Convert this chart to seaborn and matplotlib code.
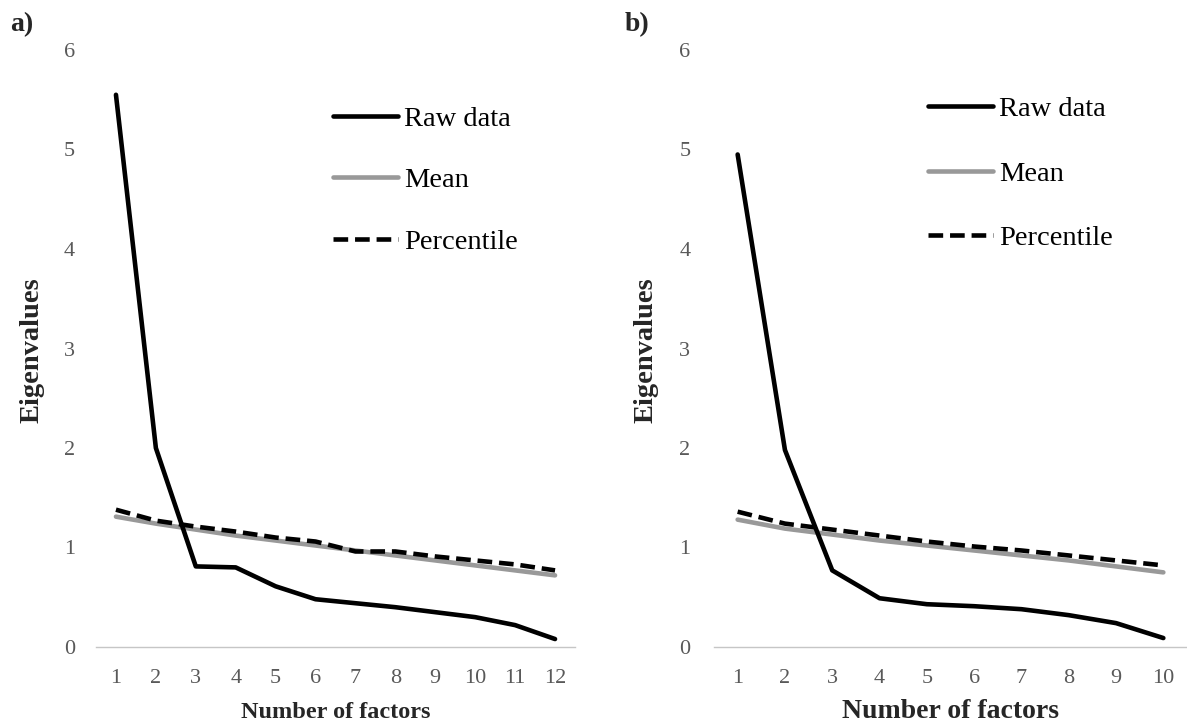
import matplotlib
matplotlib.use("Agg")
import matplotlib.pyplot as plt
import seaborn as sns
import pandas as pd

# ---- data ----
factors_a = list(range(1, 13))
raw_a = [5.55, 2.00, 0.81, 0.80, 0.61, 0.48, 0.44, 0.40, 0.35, 0.30, 0.22, 0.08]
mean_a = [1.31, 1.24, 1.18, 1.12, 1.07, 1.02, 0.97, 0.92, 0.87, 0.82, 0.77, 0.72]
pct_a = [1.38, 1.27, 1.21, 1.16, 1.10, 1.06, 0.96, 0.96, 0.91, 0.87, 0.83, 0.77]

factors_b = list(range(1, 11))
raw_b = [4.95, 1.98, 0.77, 0.49, 0.43, 0.41, 0.38, 0.32, 0.24, 0.09]
mean_b = [1.28, 1.19, 1.13, 1.07, 1.02, 0.97, 0.92, 0.87, 0.81, 0.75]
pct_b = [1.36, 1.24, 1.18, 1.12, 1.06, 1.01, 0.97, 0.92, 0.87, 0.82]

series_names = ["Raw data", "Mean", "Percentile"]
yticks = [0, 1, 2, 3, 4, 5, 6]
panel_labels = ["a)", "b)"]
xlabel = "Number of factors"
ylabel = "Eigenvalues"

sns.set_theme(style="white")
plt.rcParams["font.family"] = ["Liberation Serif", "DejaVu Serif"]

W, H = 1187, 724
fig = plt.figure(figsize=(W / 100, H / 100), dpi=100)


def fx(px):
    return px / W


def fy(py):
    return 1 - py / H


ax_a = fig.add_axes([fx(96), fy(647), fx(575) - fx(96), fy(50) - fy(647)])
ax_b = fig.add_axes([fx(714), fy(647), fx(1187) - fx(714), fy(50) - fy(647)])

LW = 3.3
styles = {
    "Raw data": dict(color="black", linewidth=LW),
    "Mean": dict(color="#999999", linewidth=LW),
    "Percentile": dict(color="black", linewidth=LW, dashes=(3.2, 1.5)),
}


def draw(ax, factors, raw, mean, pct, xlab_size, xlab_pad, ytick_pad, legend_anchor, label_spacing):
    df = pd.DataFrame({"factor": factors, "Raw data": raw, "Mean": mean, "Percentile": pct})
    # draw Mean first so black lines sit on top
    for name in ["Mean", "Percentile", "Raw data"]:
        kw = dict(styles[name])
        dashes = kw.pop("dashes", None)
        sns.lineplot(data=df, x="factor", y=name, ax=ax, label=name, **kw)
        if dashes is not None:
            ax.lines[-1].set_dashes(dashes)
            ax.lines[-1].set_dash_capstyle("butt")
        ax.lines[-1].set_solid_capstyle("round")
    ax.set_xlim(0.5, len(factors) + 0.5)
    ax.set_ylim(0, 6)
    ax.set_xticks(factors)
    ax.set_xticklabels([str(f) for f in factors])
    ax.set_yticks(yticks)
    ax.set_yticklabels([str(t) for t in yticks])
    for s in ["top", "right", "left"]:
        ax.spines[s].set_visible(False)
    ax.spines["bottom"].set_color("#c6c6c6")
    ax.spines["bottom"].set_linewidth(1.0)
    ax.tick_params(axis="both", length=0, labelsize=16, labelcolor="#595959")
    ax.tick_params(axis="y", pad=ytick_pad)
    ax.tick_params(axis="x", pad=16)
    ax.set_xlabel(xlabel, fontsize=xlab_size, fontweight="bold", labelpad=xlab_pad)
    ax.set_ylabel("")
    ax.grid(False)
    # legend in specified order
    handles, labels = ax.get_legend_handles_labels()
    order = [labels.index(n) for n in series_names]
    leg = ax.legend([handles[i] for i in order], [labels[i] for i in order],
                    loc="upper left", bbox_to_anchor=legend_anchor,
                    bbox_transform=fig.transFigure, frameon=False,
                    fontsize=20.5, handlelength=2.3, handletextpad=0.2,
                    borderpad=0, borderaxespad=0, labelspacing=label_spacing)
    for t in leg.get_texts():
        t.set_color("black")


draw(ax_a, factors_a, raw_a, mean_a, pct_a, 17.5, 10, 15, (fx(333), fy(106)), 1.25)
draw(ax_b, factors_b, raw_b, mean_b, pct_b, 20, 8, 17, (fx(928), fy(96)), 1.36)

fig.text(fx(32), fy(350), ylabel, rotation=90, ha="center", va="center",
         fontsize=20.5, fontweight="bold")
fig.text(fx(646), fy(350), ylabel, rotation=90, ha="center", va="center",
         fontsize=20.5, fontweight="bold")
fig.text(fx(22), fy(25), panel_labels[0], ha="center", va="center",
         fontsize=20, fontweight="bold")
fig.text(fx(637), fy(25), panel_labels[1], ha="center", va="center",
         fontsize=20, fontweight="bold")

fig.savefig("out.png", dpi=100)
